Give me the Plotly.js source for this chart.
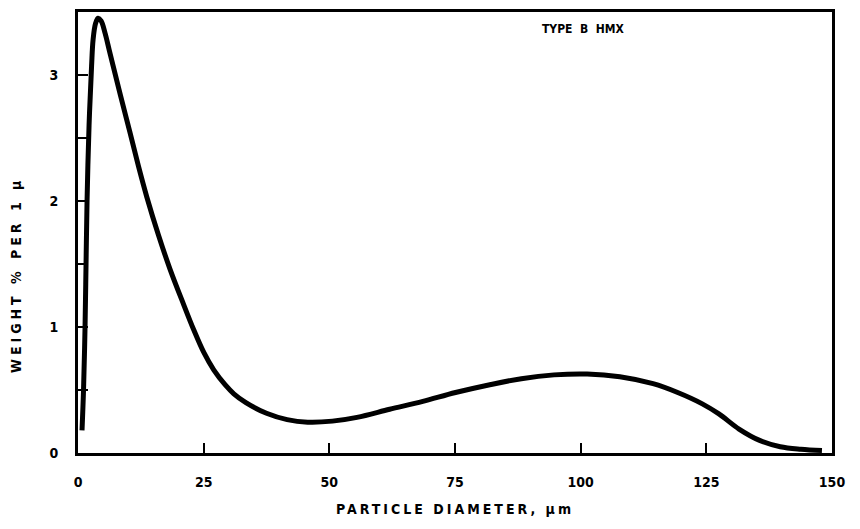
<!DOCTYPE html>
<html>
<head>
<meta charset="utf-8">
<script src="https://cdn.plot.ly/plotly-3.0.1.min.js"></script>
<style>
html,body{margin:0;padding:0;background:#fff;}
#chart{width:860px;height:529px;}
.xtitle{letter-spacing:3px;}
</style>
</head>
<body>
<div id="chart"></div>
<script>
// Particle diameter (µm) and weight % per 1 µ
const diameter = [0.8, 1.1, 1.4, 1.6, 1.8, 2.2, 2.7, 3.0, 3.5, 4.0, 4.6, 5.4, 6.2, 7.0, 8.5, 10.3, 12, 13.7, 16, 18.3, 21, 23, 25, 27, 29.3, 31, 33.4, 37.5, 41.6, 45.7, 50.6, 55.5, 62, 68.6, 75.1, 81.7, 88.2, 94.7, 101.3, 107.8, 114.4, 119.3, 124.2, 127.5, 131.5, 135.6, 139.7, 143.8, 148];
const weightPct = [0.18, 0.5, 1.0, 1.5, 2.0, 2.6, 3.07, 3.28, 3.41, 3.45, 3.43, 3.33, 3.2, 3.07, 2.83, 2.55, 2.28, 2.03, 1.73, 1.46, 1.18, 0.98, 0.8, 0.66, 0.54, 0.47, 0.40, 0.315, 0.265, 0.245, 0.253, 0.283, 0.347, 0.41, 0.48, 0.54, 0.59, 0.62, 0.627, 0.605, 0.55, 0.48, 0.39, 0.31, 0.19, 0.10, 0.05, 0.03, 0.02];

const xTickVals = [0, 25, 50, 75, 100, 125, 150];
const xTickText = ["0", "25", "50", "75", "100", "125", "150"];
const yTickVals = [0, 0.5, 1, 1.5, 2, 2.5, 3];
const yTickText = ["0", "", "1", "", "2", "", "3"];

const fontFam = '"DejaVu Sans Condensed", "DejaVu Sans", sans-serif';

const trace = {
  x: diameter, y: weightPct, type: 'scatter', mode: 'lines',
  line: {color: '#000', width: 5, shape: 'spline', smoothing: 1},
  hoverinfo: 'skip', showlegend: false
};

const layout = {
  width: 860, height: 529,
  margin: {l: 78, r: 28, t: 12, b: 76},
  paper_bgcolor: '#fff', plot_bgcolor: '#fff',
  font: {family: fontFam, color: '#000', size: 13},
  xaxis: {
    range: [0, 150], tickvals: xTickVals, ticktext: xTickText,
    ticks: 'inside', ticklen: 10, tickwidth: 2, tickcolor: '#000',
    showline: true, linecolor: '#000', linewidth: 3, mirror: true,
    showgrid: false, zeroline: false,
    ticklabelstandoff: 14,
    tickfont: {family: fontFam, size: 14, weight: 'bold'},
    title: {text: 'PARTICLE DIAMETER, μm', font: {family: fontFam, size: 14, weight: 'bold'}, standoff: 16}
  },
  yaxis: {
    range: [0, 3.5], tickvals: yTickVals, ticktext: yTickText,
    ticks: 'inside', ticklen: 10, tickwidth: 2, tickcolor: '#000',
    showline: true, linecolor: '#000', linewidth: 3, mirror: true,
    showgrid: false, zeroline: false,
    ticklabelstandoff: 14,
    tickfont: {family: fontFam, size: 14, weight: 'bold'}
  },
  annotations: [
    {text: 'TYPE  B  HMX', xref: 'paper', yref: 'paper', x: 0.67, y: 0.962, xanchor: 'center', yanchor: 'middle',
     showarrow: false, font: {family: fontFam, size: 12, weight: 'bold'}},
    {text: 'WEIGHT % PER 1 μ', xref: 'paper', yref: 'paper', x: -0.082, y: 0.404, xanchor: 'center', yanchor: 'middle',
     textangle: -90, showarrow: false, font: {family: fontFam, size: 14, weight: 'bold'}}
  ]
};

Plotly.newPlot('chart', [trace], layout, {staticPlot: true, displayModeBar: false}).then(function (gd) {
  gd.querySelectorAll('.annotation-text').forEach(function (t) {
    if (t.textContent.indexOf('WEIGHT') === 0) t.style.letterSpacing = '4px';
  });
});
</script>
</body>
</html>
